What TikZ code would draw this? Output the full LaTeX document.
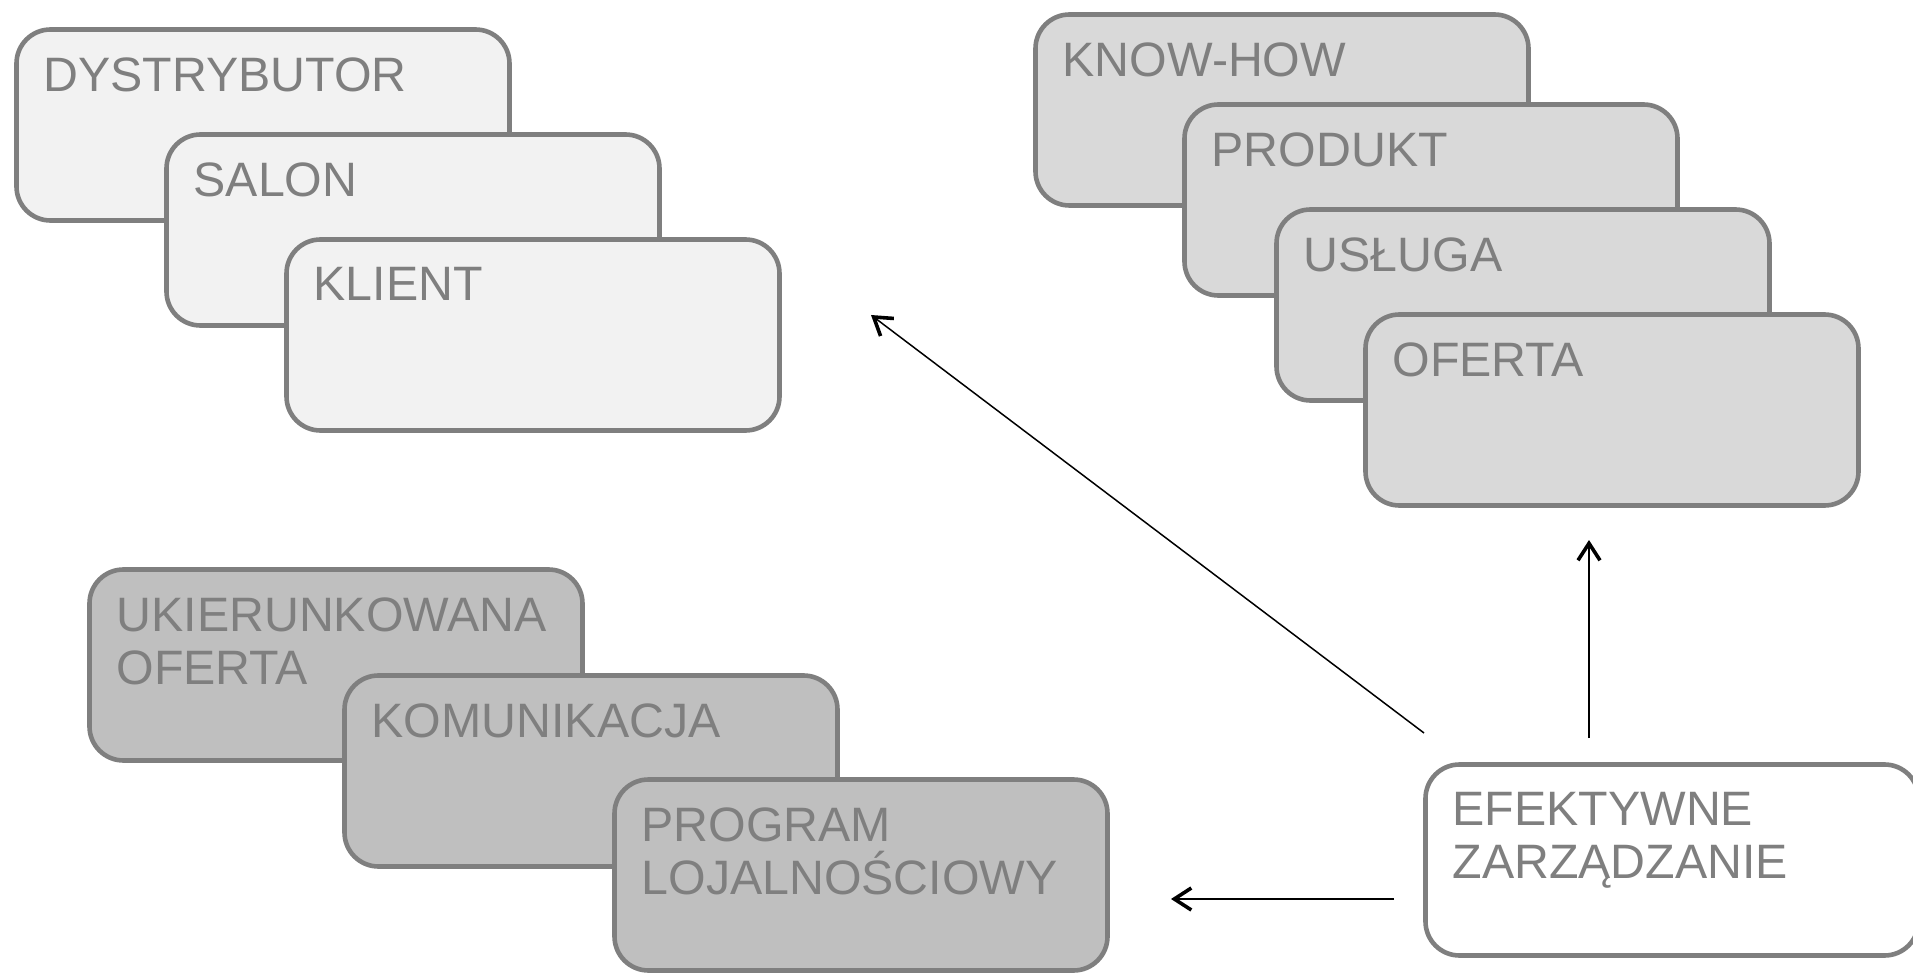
\documentclass[tikz,border=0pt]{standalone}
\usepackage{fontspec}
\setmainfont{Liberation Sans}
\usetikzlibrary{arrows.meta,calc}
\definecolor{bordergray}{HTML}{7F7F7F}
\definecolor{textgray}{HTML}{7F7F7F}
\definecolor{fillA}{HTML}{F2F2F2}
\definecolor{fillB}{HTML}{D9D9D9}
\definecolor{fillC}{HTML}{BFBFBF}
\begin{document}
\begin{tikzpicture}[x=0.5pt,y=-0.5pt,
  card/.style={draw=bordergray, line width=2.3pt, rounded corners=17pt,
    minimum width=246.5pt, minimum height=95.5pt, inner sep=0pt},
  cardtext/.style={anchor=north west, inner sep=0pt, text=textgray, align=left,
    font=\fontsize{24.15pt}{26.5pt}\selectfont},
  conn/.style={line width=0.75pt, draw=black,
    -{Straight Barb[length=8.5pt,width=11pt,line width=1.8pt]}}]
\useasboundingbox (0,0) rectangle (1913,973);

% top-left group
\node[card, fill=fillA] (dys) at (263,125) {};
\node[cardtext] (tdys) at ($(dys.north west)+(29,30)$) {DYSTRYBUTOR};
\node[card, fill=fillA] (sal) at (413,230) {};
\node[cardtext] (tsal) at ($(sal.north west)+(29,30)$) {SALON};
\node[card, fill=fillA] (kli) at (533,335) {};
\node[cardtext] (tkli) at ($(kli.north west)+(29,30)$) {KLIENT};

% top-right group
\node[card, fill=fillB] (know) at (1282,110) {};
\node[cardtext] (tknow) at ($(know.north west)+(29,30)$) {KNOW-HOW};
\node[card, fill=fillB] (prod) at (1431,200) {};
\node[cardtext] (tprod) at ($(prod.north west)+(29,30)$) {PRODUKT};
\node[card, fill=fillB] (usl) at (1523,305) {};
\node[cardtext] (tusl) at ($(usl.north west)+(29,30)$) {USŁUGA};
\node[card, fill=fillB] (ofe) at (1612,410) {};
\node[cardtext] (tofe) at ($(ofe.north west)+(29,30)$) {OFERTA};

% bottom-left group
\node[card, fill=fillC] (ukie) at (336,665) {};
\node[cardtext] (tukie) at ($(ukie.north west)+(29,30)$) {UKIERUNKOWANA\\OFERTA};
\node[card, fill=fillC] (kom) at (591,771) {};
\node[cardtext] (tkom) at ($(kom.north west)+(29,30)$) {KOMUNIKACJA};
\node[card, fill=fillC] (prog) at (861,875) {};
\node[cardtext] (tprog) at ($(prog.north west)+(29,30)$) {PROGRAM\\LOJALNOŚCIOWY};

% bottom-right
\node[card, fill=white] (efe) at (1672,860) {};
\node[cardtext] (tefe) at ($(efe.north west)+(29,30)$) {EFEKTYWNE\\ZARZĄDZANIE};

% connectors
\coordinate (a1s) at (1424,733);
\coordinate (a1e) at (871,315);
\coordinate (a2s) at (1589,738);
\coordinate (a2e) at (1589,540);
\coordinate (a3s) at (1394,899);
\coordinate (a3e) at (1171,899);
\draw[conn] (a1s) -- (a1e);
\draw[conn] (a2s) -- (a2e);
\draw[conn] (a3s) -- (a3e);
\end{tikzpicture}
\end{document}
